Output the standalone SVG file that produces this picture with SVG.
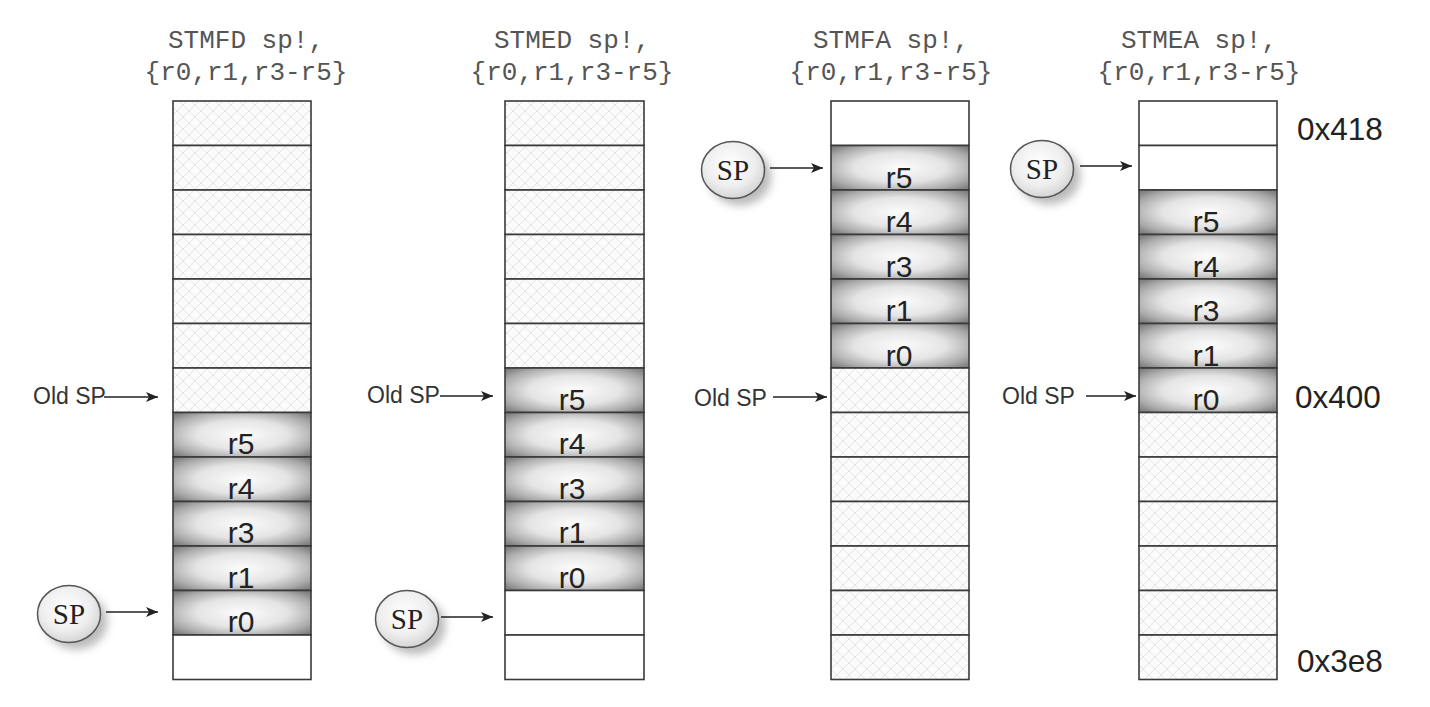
<svg xmlns="http://www.w3.org/2000/svg" width="1430" height="707" viewBox="0 0 1430 707">
<style>
.title{font-family:"Liberation Mono","Courier New",monospace;font-size:26px;fill:#555;text-anchor:middle}
.cell{stroke:#3a3a3a;stroke-width:1.6}
.hatch{fill:url(#hatch)}
.blank{fill:#fff}
.reg{fill:url(#regGrad)}
.rl{font-family:"Liberation Sans",Arial,sans-serif;font-size:30px;fill:#222;text-anchor:middle}
.old{font-family:"Liberation Sans",Arial,sans-serif;font-size:23px;fill:#333}
.addr{font-family:"Liberation Sans",Arial,sans-serif;font-size:31.5px;fill:#222}
.sp{font-family:"Liberation Serif","Times New Roman",serif;font-size:29px;fill:#222;text-anchor:middle}
.arr{stroke:#222;stroke-width:1.4;fill:none;marker-end:url(#ah)}
.spell{fill:url(#spGrad);stroke:#555;stroke-width:1.5}
</style>
<defs>
<pattern id="hatch" patternUnits="userSpaceOnUse" width="12" height="12">
<rect width="12" height="12" fill="#fbfbfb"/>
<path d="M0 12 L12 0 M-3 3 L3 -3 M9 15 L15 9" stroke="#e2e2e2" stroke-width="1"/>
<path d="M0 6 L6 12 M6 0 L12 6" stroke="#e8e8e8" stroke-width="1"/>
</pattern>
<radialGradient id="regGrad" cx="0.5" cy="0.5" r="0.66">
<stop offset="0" stop-color="#fcfcfc"/>
<stop offset="0.5" stop-color="#e4e4e4"/>
<stop offset="0.82" stop-color="#ababab"/>
<stop offset="1" stop-color="#808080"/>
</radialGradient>
<radialGradient id="spGrad" cx="0.45" cy="0.4" r="0.65">
<stop offset="0" stop-color="#ffffff"/>
<stop offset="0.6" stop-color="#eeeeee"/>
<stop offset="1" stop-color="#cfcfcf"/>
</radialGradient>
<filter id="shadow" x="-50%" y="-50%" width="200%" height="200%">
<feGaussianBlur stdDeviation="4"/>
</filter>
<marker id="ah" viewBox="0 0 12 10" refX="12" refY="5" markerWidth="12" markerHeight="10" markerUnits="userSpaceOnUse" orient="auto">
<path d="M0 0 L12 5 L0 10 L3 5 Z" fill="#222"/>
</marker>
</defs>
<rect width="1430" height="707" fill="#fff"/>

<!-- Column 1: STMFD -->
<g id="col-stmfd">
<text class="title" x="246" y="48">STMFD sp!,</text>
<text class="title" x="246" y="80">{r0,r1,r3-r5}</text>
<rect class="cell hatch" x="173" y="101" width="138" height="44.5"/>
<rect class="cell hatch" x="173" y="145.5" width="138" height="44.5"/>
<rect class="cell hatch" x="173" y="190" width="138" height="44.5"/>
<rect class="cell hatch" x="173" y="234.5" width="138" height="44.5"/>
<rect class="cell hatch" x="173" y="279" width="138" height="44.5"/>
<rect class="cell hatch" x="173" y="323.5" width="138" height="44.5"/>
<rect class="cell hatch" x="173" y="368" width="138" height="44.5"/>
<rect class="cell reg" x="173" y="412.5" width="138" height="44.5"/>
<rect class="cell reg" x="173" y="457" width="138" height="44.5"/>
<rect class="cell reg" x="173" y="501.5" width="138" height="44.5"/>
<rect class="cell reg" x="173" y="546" width="138" height="44.5"/>
<rect class="cell reg" x="173" y="590.5" width="138" height="44.5"/>
<rect class="cell blank" x="173" y="635" width="138" height="44.5"/>
<text class="rl" x="241" y="454">r5</text>
<text class="rl" x="241" y="499">r4</text>
<text class="rl" x="241" y="543">r3</text>
<text class="rl" x="241" y="588">r1</text>
<text class="rl" x="241" y="632">r0</text>
</g>

<!-- Column 2: STMED -->
<g id="col-stmed">
<text class="title" x="572" y="48">STMED sp!,</text>
<text class="title" x="572" y="80">{r0,r1,r3-r5}</text>
<rect class="cell hatch" x="505" y="101" width="139" height="44.5"/>
<rect class="cell hatch" x="505" y="145.5" width="139" height="44.5"/>
<rect class="cell hatch" x="505" y="190" width="139" height="44.5"/>
<rect class="cell hatch" x="505" y="234.5" width="139" height="44.5"/>
<rect class="cell hatch" x="505" y="279" width="139" height="44.5"/>
<rect class="cell hatch" x="505" y="323.5" width="139" height="44.5"/>
<rect class="cell reg" x="505" y="368" width="139" height="44.5"/>
<rect class="cell reg" x="505" y="412.5" width="139" height="44.5"/>
<rect class="cell reg" x="505" y="457" width="139" height="44.5"/>
<rect class="cell reg" x="505" y="501.5" width="139" height="44.5"/>
<rect class="cell reg" x="505" y="546" width="139" height="44.5"/>
<rect class="cell blank" x="505" y="590.5" width="139" height="44.5"/>
<rect class="cell blank" x="505" y="635" width="139" height="44.5"/>
<text class="rl" x="572" y="410">r5</text>
<text class="rl" x="572" y="454">r4</text>
<text class="rl" x="572" y="499">r3</text>
<text class="rl" x="572" y="543">r1</text>
<text class="rl" x="572" y="588">r0</text>
</g>

<!-- Column 3: STMFA -->
<g id="col-stmfa">
<text class="title" x="891" y="48">STMFA sp!,</text>
<text class="title" x="891" y="80">{r0,r1,r3-r5}</text>
<rect class="cell blank" x="831" y="101" width="138" height="44.5"/>
<rect class="cell reg" x="831" y="145.5" width="138" height="44.5"/>
<rect class="cell reg" x="831" y="190" width="138" height="44.5"/>
<rect class="cell reg" x="831" y="234.5" width="138" height="44.5"/>
<rect class="cell reg" x="831" y="279" width="138" height="44.5"/>
<rect class="cell reg" x="831" y="323.5" width="138" height="44.5"/>
<rect class="cell hatch" x="831" y="368" width="138" height="44.5"/>
<rect class="cell hatch" x="831" y="412.5" width="138" height="44.5"/>
<rect class="cell hatch" x="831" y="457" width="138" height="44.5"/>
<rect class="cell hatch" x="831" y="501.5" width="138" height="44.5"/>
<rect class="cell hatch" x="831" y="546" width="138" height="44.5"/>
<rect class="cell hatch" x="831" y="590.5" width="138" height="44.5"/>
<rect class="cell hatch" x="831" y="635" width="138" height="44.5"/>
<text class="rl" x="899" y="188">r5</text>
<text class="rl" x="899" y="232">r4</text>
<text class="rl" x="899" y="277">r3</text>
<text class="rl" x="899" y="321">r1</text>
<text class="rl" x="899" y="366">r0</text>
</g>

<!-- Column 4: STMEA -->
<g id="col-stmea">
<text class="title" x="1199" y="48">STMEA sp!,</text>
<text class="title" x="1199" y="80">{r0,r1,r3-r5}</text>
<rect class="cell blank" x="1139" y="101" width="138" height="44.5"/>
<rect class="cell blank" x="1139" y="145.5" width="138" height="44.5"/>
<rect class="cell reg" x="1139" y="190" width="138" height="44.5"/>
<rect class="cell reg" x="1139" y="234.5" width="138" height="44.5"/>
<rect class="cell reg" x="1139" y="279" width="138" height="44.5"/>
<rect class="cell reg" x="1139" y="323.5" width="138" height="44.5"/>
<rect class="cell reg" x="1139" y="368" width="138" height="44.5"/>
<rect class="cell hatch" x="1139" y="412.5" width="138" height="44.5"/>
<rect class="cell hatch" x="1139" y="457" width="138" height="44.5"/>
<rect class="cell hatch" x="1139" y="501.5" width="138" height="44.5"/>
<rect class="cell hatch" x="1139" y="546" width="138" height="44.5"/>
<rect class="cell hatch" x="1139" y="590.5" width="138" height="44.5"/>
<rect class="cell hatch" x="1139" y="635" width="138" height="44.5"/>
<text class="rl" x="1206" y="232">r5</text>
<text class="rl" x="1206" y="277">r4</text>
<text class="rl" x="1206" y="321">r3</text>
<text class="rl" x="1206" y="366">r1</text>
<text class="rl" x="1206" y="410">r0</text>
</g>

<!-- Address labels -->
<g id="addresses">
<text class="addr" x="1297" y="140">0x418</text>
<text class="addr" x="1295" y="408">0x400</text>
<text class="addr" x="1297" y="672">0x3e8</text>
</g>

<!-- SP markers -->
<g id="sp-1">
<ellipse cx="76" cy="621" rx="31.5" ry="28.5" fill="#bbb" filter="url(#shadow)"/>
<ellipse class="spell" cx="69" cy="614" rx="31.5" ry="28.5"/>
<text class="sp" x="69" y="624">SP</text>
</g>
<g id="sp-2">
<ellipse cx="414" cy="626" rx="31.5" ry="28.5" fill="#bbb" filter="url(#shadow)"/>
<ellipse class="spell" cx="407" cy="619" rx="31.5" ry="28.5"/>
<text class="sp" x="407" y="629">SP</text>
</g>
<g id="sp-3">
<ellipse cx="740" cy="177" rx="31.5" ry="28.5" fill="#bbb" filter="url(#shadow)"/>
<ellipse class="spell" cx="733" cy="170" rx="31.5" ry="28.5"/>
<text class="sp" x="733" y="180">SP</text>
</g>
<g id="sp-4">
<ellipse cx="1049" cy="176" rx="31.5" ry="28.5" fill="#bbb" filter="url(#shadow)"/>
<ellipse class="spell" cx="1042" cy="169" rx="31.5" ry="28.5"/>
<text class="sp" x="1042" y="179">SP</text>
</g>

<!-- Old SP labels -->
<g id="oldsp-labels">
<text class="old" x="33" y="404">Old SP</text>
<text class="old" x="367" y="403">Old SP</text>
<text class="old" x="694" y="406">Old SP</text>
<text class="old" x="1002" y="404">Old SP</text>
</g>

<!-- Connectors -->
<g id="connectors">
<line class="arr" x1="104" y1="397" x2="158" y2="397"/>
<line class="arr" x1="106" y1="612" x2="158" y2="612"/>
<line class="arr" x1="440" y1="396" x2="493" y2="396"/>
<line class="arr" x1="441" y1="617" x2="493" y2="617"/>
<line class="arr" x1="773" y1="397" x2="827" y2="397"/>
<line class="arr" x1="770" y1="168" x2="823" y2="168"/>
<line class="arr" x1="1086" y1="396" x2="1136" y2="396"/>
<line class="arr" x1="1080" y1="166" x2="1132" y2="166"/>
</g>
</svg>
